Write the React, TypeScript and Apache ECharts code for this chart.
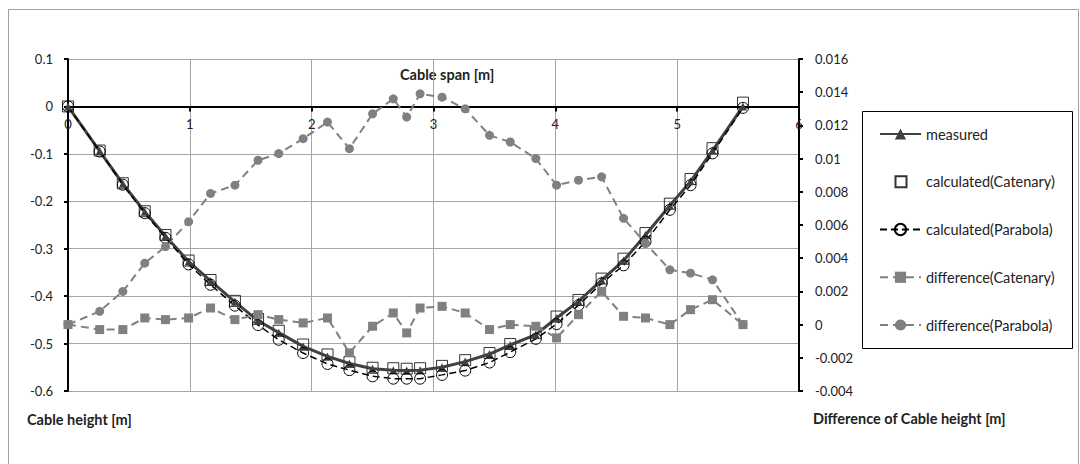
import React, { useEffect, useRef } from "react";
import * as echarts from "echarts";

const spanX = [0, 0.26, 0.45, 0.63, 0.8, 0.99, 1.17, 1.37, 1.56, 1.73, 1.93, 2.13, 2.31, 2.5, 2.67, 2.78, 2.89, 3.07, 3.26, 3.46, 3.63, 3.84, 4.01, 4.19, 4.38, 4.56, 4.74, 4.94, 5.11, 5.29, 5.54];
const measured = [0, -0.094, -0.163, -0.222, -0.273, -0.327, -0.368, -0.412, -0.452, -0.477, -0.506, -0.527, -0.542, -0.553, -0.556, -0.557, -0.556, -0.55, -0.538, -0.522, -0.503, -0.481, -0.446, -0.411, -0.366, -0.325, -0.271, -0.209, -0.158, -0.093, 0];
const catenary = [0, -0.093, -0.162, -0.221, -0.271, -0.325, -0.366, -0.41, -0.448, -0.473, -0.502, -0.523, -0.539, -0.551, -0.552, -0.553, -0.552, -0.547, -0.535, -0.52, -0.501, -0.478, -0.443, -0.408, -0.363, -0.321, -0.267, -0.205, -0.153, -0.088, 0.008];
const parabola = [0, -0.095, -0.165, -0.225, -0.277, -0.333, -0.376, -0.42, -0.461, -0.492, -0.52, -0.543, -0.556, -0.569, -0.574, -0.574, -0.574, -0.566, -0.557, -0.54, -0.518, -0.49, -0.459, -0.419, -0.373, -0.335, -0.285, -0.218, -0.166, -0.099, -0.003];
const diffCatenary = [0, -0.0003, -0.0003, 0.0004, 0.0003, 0.0004, 0.001, 0.0003, 0.0006, 0.0003, 0.0001, 0.0004, -0.0017, -0.0001, 0.0007, -0.0005, 0.001, 0.0011, 0.0007, -0.0003, 0, -0.0001, -0.0008, 0.0006, 0.002, 0.0005, 0.0004, 0, 0.0009, 0.0015, 0];
const diffParabola = [0, 0.0008, 0.002, 0.0037, 0.0047, 0.0062, 0.0079, 0.0084, 0.0099, 0.0103, 0.0112, 0.0122, 0.0106, 0.0127, 0.0136, 0.0125, 0.0139, 0.0137, 0.013, 0.0114, 0.011, 0.01, 0.0084, 0.0087, 0.0089, 0.0064, 0.0049, 0.0033, 0.0031, 0.0027, 0];

const seriesNames = ["measured", "calculated(Catenary)", "calculated(Parabola)", "difference(Catenary)", "difference(Parabola)"];
const xTitle = "Cable span [m]";
const yTitle = "Cable height [m]";
const y2Title = "Difference of Cable height [m]";

const FONT = "Lato, 'Open Sans', sans-serif";
const pair = (ys: number[]) => spanX.map((x, i) => [x, ys[i]]);

// grid geometry
const GL = 68, GT = 59, GW = 731, GH = 332;
const Y_MIN = -0.6, Y_MAX = 0.1;

export default function App() {
  const ref = useRef<HTMLDivElement>(null);
  useEffect(() => {
    if (!ref.current) return;
    const chart = echarts.init(ref.current, undefined, { renderer: "svg" });
    const gray = "#808080";
    // x axis sits on the y=0 line of the left axis
    const zeroOffset = -(GH * (0 - Y_MIN)) / (Y_MAX - Y_MIN);
    chart.setOption({
      animation: false,
      backgroundColor: "#fff",
      textStyle: { fontFamily: FONT },
      grid: { left: GL, top: GT, width: GW, height: GH, containLabel: false, outerBoundsMode: "none" },
      xAxis: {
        type: "value",
        min: 0,
        max: 6,
        interval: 1,
        position: "bottom",
        offset: zeroOffset,
        axisLine: { show: true, onZero: false, lineStyle: { color: "#000", width: 2 } },
        axisTick: { show: true, length: 5, lineStyle: { color: "#000", width: 2 } },
        axisLabel: { color: "#222", fontSize: 13, fontFamily: FONT, margin: 11 },
        splitLine: { show: true, lineStyle: { color: "#a6a6a6", width: 1 } },
      },
      yAxis: [
        {
          type: "value",
          min: Y_MIN,
          max: Y_MAX,
          interval: 0.1,
          position: "left",
          axisLine: { show: true, lineStyle: { color: "#000", width: 2 } },
          axisTick: { show: true, length: 4, lineStyle: { color: "#000", width: 2 } },
          axisLabel: { color: "#222", fontSize: 13, fontFamily: FONT, margin: 15 },
          splitLine: { show: true, lineStyle: { color: "#a6a6a6", width: 1 } },
        },
        {
          type: "value",
          min: -0.004,
          max: 0.016,
          interval: 0.002,
          position: "right",
          axisLine: { show: true, lineStyle: { color: "#000", width: 2 } },
          axisTick: { show: true, length: 4, lineStyle: { color: "#000", width: 2 } },
          axisLabel: { color: "#222", fontSize: 13, fontFamily: FONT, margin: 16 },
          splitLine: { show: false },
        },
      ],
      legend: {
        orient: "vertical",
        left: 874,
        top: 121,
        itemWidth: 41,
        itemHeight: 14,
        itemGap: 31.75,
        textStyle: { fontSize: 14.5, fontFamily: FONT, color: "#222", lineHeight: 16 },
        data: [
          seriesNames[0],
          { name: seriesNames[1], icon: "path://M0,0 M41,14 M15.5,1.5 L26.5,1.5 L26.5,12.5 L15.5,12.5 Z" },
          seriesNames[2],
          seriesNames[3],
          seriesNames[4],
        ],
      },
      series: [
        {
          name: seriesNames[0],
          type: "line",
          data: pair(measured),
          symbol: "triangle",
          symbolSize: 8,
          lineStyle: { color: "#404040", width: 3 },
          itemStyle: { color: "#404040" },
          yAxisIndex: 0,
        },
        {
          name: seriesNames[1],
          type: "scatter",
          data: pair(catenary),
          symbol: "rect",
          symbolSize: 11,
          itemStyle: { color: "rgba(0,0,0,0)", borderColor: "#000", borderWidth: 1 },
          yAxisIndex: 0,
        },
        {
          name: seriesNames[2],
          type: "line",
          data: pair(parabola),
          symbol: "circle",
          symbolSize: 11,
          lineStyle: { color: "#000", width: 1.5, type: [7, 4] },
          itemStyle: { color: "rgba(255,255,255,0)", borderColor: "#000", borderWidth: 1 },
          yAxisIndex: 0,
        },
        {
          name: seriesNames[3],
          type: "line",
          data: pair(diffCatenary),
          symbol: "rect",
          symbolSize: 9,
          lineStyle: { color: gray, width: 2, type: [8, 5] },
          itemStyle: { color: gray },
          yAxisIndex: 1,
        },
        {
          name: seriesNames[4],
          type: "line",
          data: pair(diffParabola),
          symbol: "circle",
          symbolSize: 9,
          lineStyle: { color: gray, width: 2, type: [8, 5] },
          itemStyle: { color: gray },
          yAxisIndex: 1,
        },
      ],
      graphic: [
        {
          type: "rect",
          silent: true,
          shape: { x: 8.5, y: 9.5, width: 1070, height: 470 },
          style: { fill: "none", stroke: "#a0a0a0", lineWidth: 1 },
        },
        {
          type: "rect",
          silent: true,
          shape: { x: 862.5, y: 111.5, width: 210, height: 237 },
          style: { fill: "none", stroke: "#000", lineWidth: 1 },
        },
        {
          type: "text",
          x: 400,
          y: 74,
          style: { text: xTitle, font: `bold 14.5px ${FONT}`, fill: "#222", textVerticalAlign: "middle" },
        },
        {
          type: "text",
          x: 27,
          y: 419,
          style: { text: yTitle, font: `bold 14.5px ${FONT}`, fill: "#222", textVerticalAlign: "middle" },
        },
        {
          type: "text",
          x: 813,
          y: 418,
          style: { text: y2Title, font: `bold 14.5px ${FONT}`, fill: "#222", textVerticalAlign: "middle" },
        },
      ],
    });
    return () => chart.dispose();
  }, []);
  return (
    <div
      ref={ref}
      style={{ position: "fixed", left: 0, top: 0, width: 1080, height: 464 }}
    />
  );
}
